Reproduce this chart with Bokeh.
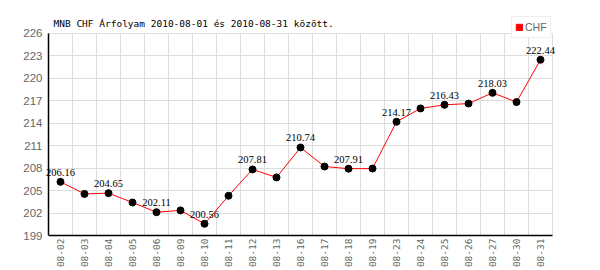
from bokeh.plotting import figure
from bokeh.models import (ColumnDataSource, Range1d, FixedTicker, Label,
                          LabelSet, Legend, LegendItem, Grid)
from bokeh.embed import file_html
from bokeh.resources import INLINE
import math

# ---- data ----
dates = ["08-02", "08-03", "08-04", "08-05", "08-06", "08-09", "08-10",
         "08-11", "08-12", "08-13", "08-16", "08-17", "08-18", "08-19",
         "08-23", "08-24", "08-25", "08-26", "08-27", "08-30", "08-31"]
rates = [206.16, 204.55, 204.65, 203.40, 202.11, 202.35, 200.56,
         204.30, 207.81, 206.75, 210.74, 208.20, 207.91, 207.93,
         214.17, 215.95, 216.43, 216.60, 218.03, 216.80, 222.44]
y_ticks = [199, 202, 205, 208, 211, 214, 217, 220, 223, 226]
series_name = "CHF"
title_text = "MNB CHF Árfolyam 2010-08-01 és 2010-08-31 között."

# ---- layout constants ----
W, H = 600, 270
border, bottom = 40, 32          # frame is wider than the grid by `pad` px
plot_left, plot_right = 48, 552  # where the grid sits
grid_top_px = 33
frame_h = H - bottom
n = len(dates)
unit_px = (plot_right - plot_left) / n
pad = (plot_left - border) / unit_px
y_span = y_ticks[-1] - y_ticks[0]
y_end = y_ticks[-1] + grid_top_px * y_span / (frame_h - grid_top_px)

xs = [i + 0.5 for i in range(n)]
src = ColumnDataSource(dict(x=xs, y=rates))
lab_idx = [i for i in range(n) if i % 2 == 0]
lab_src = ColumnDataSource(dict(x=[xs[i] for i in lab_idx],
                                y=[rates[i] for i in lab_idx],
                                t=["%.2f" % rates[i] for i in lab_idx]))

p = figure(width=W, height=H, output_backend="svg", toolbar_location=None,
           x_range=Range1d(-pad, n + pad), y_range=Range1d(y_ticks[0], y_end),
           min_border_left=border, min_border_right=border, min_border_top=0,
           min_border_bottom=bottom, title_location=None)
p.outline_line_color = None
p.background_fill_color = "white"
p.border_fill_color = "white"

# axes
p.xaxis.ticker = FixedTicker(ticks=xs)
p.xaxis.major_label_overrides = {x: d for x, d in zip(xs, dates)}
p.xaxis.major_label_orientation = math.pi / 2
p.xaxis.major_label_text_font = "DejaVu Sans Mono"
p.xaxis.major_label_text_font_size = "9.5px"
p.xaxis.major_label_text_color = "#666666"
p.xaxis.major_tick_out = 0
p.xaxis.major_tick_in = 0
p.xaxis.minor_tick_out = 0
p.xaxis.minor_tick_in = 0
p.xaxis.major_label_standoff = 3
p.xaxis.axis_line_color = "black"
p.xaxis.axis_line_width = 1.5
p.xaxis.bounds = (0, n)

p.yaxis.ticker = FixedTicker(ticks=y_ticks)
p.yaxis.axis_line_color = None
p.yaxis.major_label_text_font = "Liberation Sans Narrow, Liberation Sans"
p.yaxis.major_label_text_font_size = "11.5px"
p.yaxis.major_label_text_color = "#666666"
p.yaxis.major_tick_out = 0
p.yaxis.major_tick_in = 0
p.yaxis.minor_tick_out = 0
p.yaxis.minor_tick_in = 0
p.yaxis.major_label_standoff = border - plot_left + 6

p.xgrid.ticker = FixedTicker(ticks=list(range(n + 1)))
p.xgrid.cross_bounds = (y_ticks[0], y_ticks[-1])
p.xgrid.grid_line_color = "#dddddd"
p.ygrid.cross_bounds = (0, n)
p.ygrid.grid_line_color = "#dddddd"

# vertical axis line at the left edge of the grid
p.add_layout(Grid(dimension=0, ticker=FixedTicker(ticks=[0]),
                  cross_bounds=(y_ticks[0], y_ticks[-1]),
                  grid_line_color="black", grid_line_width=1.5))

# title (inside the frame area, above the grid)
p.add_layout(Label(x=plot_left - border + 5, y=frame_h - 26,
                   x_units="screen", y_units="screen",
                   text=title_text, text_font="DejaVu Sans Mono",
                   text_font_size="9.5px", text_color="black",
                   text_baseline="alphabetic", text_align="left"))

# series
p.line("x", "y", source=src, line_color="red", line_width=1)
p.scatter("x", "y", source=src, size=7, fill_color="black", line_color="black")

p.add_layout(LabelSet(x="x", y="y", text="t", source=lab_src,
                      text_align="center", text_baseline="alphabetic",
                      y_offset=6, text_font="DejaVu Sans Mono",
                      text_font_size="10.5px", text_color="black"))

# legend swatch: a hidden bar renderer of the series supplies the red square
leg_r = p.vbar(x="x", top="y", width=0.5, source=src,
               fill_color="red", line_color="red", visible=False)
legend = Legend(items=[LegendItem(label=series_name, renderers=[leg_r], index=0)],
                location=(511 - border, frame_h - 41), orientation="vertical",
                border_line_color="#dddddd", background_fill_color="white",
                background_fill_alpha=1.0, inactive_fill_alpha=0.0,
                padding=3, margin=0, spacing=0, glyph_width=8, glyph_height=8,
                label_standoff=2,
                label_text_font="Liberation Sans Narrow, Liberation Sans",
                label_text_font_size="10.5px", label_text_color="#666666",
                label_height=14)
p.add_layout(legend, "center")

open("out.html", "w").write(file_html(p, INLINE))
